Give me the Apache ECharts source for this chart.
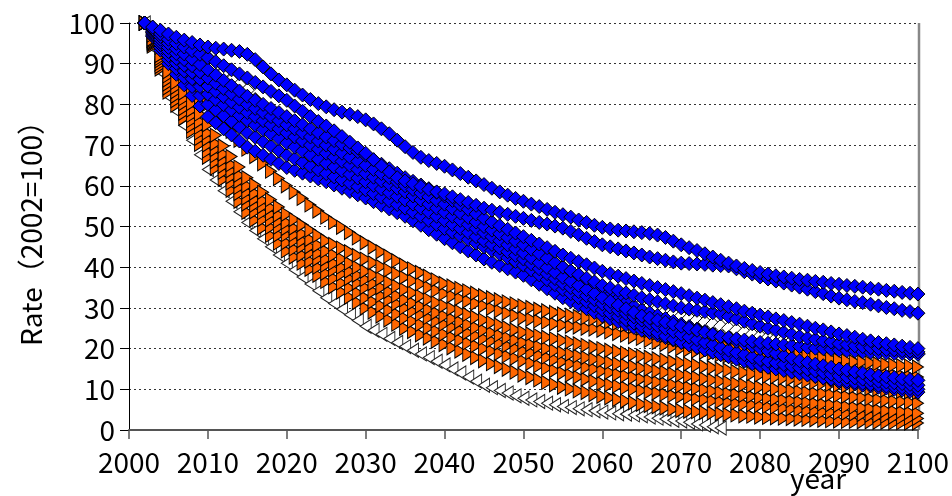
<!DOCTYPE html>
<html>
<head>
<meta charset="utf-8">
<script src="https://cdn.jsdelivr.net/npm/echarts@6/dist/echarts.min.js"></script>
<style>
  html, body { margin: 0; padding: 0; background: #ffffff; }
  #chart { width: 952px; height: 496px; }
</style>
</head>
<body>
<div id="chart"></div>
<script>
// Yearly rates, index 0 = 2002 ... index 98 = 2100 (2002 = 100)
const firstYear = 2002;
const xTicks = [2000, 2010, 2020, 2030, 2040, 2050, 2060, 2070, 2080, 2090, 2100];
const yTicks = [0, 10, 20, 30, 40, 50, 60, 70, 80, 90, 100];

// blue diamond scenarios
const blue1 = [100,99,98.2,97.3,96.5,95.8,95.2,94.6,94.1,93.8,93.6,93.3,93,92.3,91,89.2,87.5,86,84.8,83.5,82.3,81.2,80.2,79.4,78.7,78.1,77.6,77,76.2,75.2,74,72.8,71.2,69.6,68.2,67,66.2,65.5,64.8,63.9,63,62.1,61.2,60.3,59.4,58.5,57.7,56.9,56.2,55.5,54.9,54.2,53.5,52.9,52.3,51.6,51,50.3,49.8,49.4,49.1,48.9,48.7,48.5,48.3,47.9,47.3,46.4,45.5,44.8,44.1,43.3,42.5,41.7,41,40.3,39.7,39.2,38.7,38.3,37.9,37.6,37.3,37,36.8,36.5,36.3,36,35.8,35.5,35.3,35.1,34.8,34.6,34.3,34.1,33.8,33.6,33.4];
const blue2 = [100,98.6,97.3,96,95,94.1,93.2,92.3,91.5,90.5,89.5,88.5,87.5,86.5,85.4,84.3,83.2,82.1,81,79.6,78.3,77,75.8,74.7,73.5,72.1,70.7,69.3,68,66.4,64.9,63.4,62,61.2,60.5,59.8,59.1,58.5,58,57.3,56.6,55.9,55.2,54.5,54,53.5,53,52.5,52,51.5,51,50.6,50.1,49.6,48.8,48,47.1,46.3,45.5,45,44.5,44,43.5,43,42.5,42.1,41.7,41.3,41,40.9,40.8,40.7,40.5,40.4,40.3,39.6,38.9,38.3,37.6,37.1,36.6,36.1,35.6,35.1,34.6,34,33.5,32.9,32.4,32,31.6,31.3,30.9,30.5,30.1,29.8,29.4,29.1,28.7];
const blue3 = [100,98.3,96.7,95,93.7,92.4,91.1,89.8,88.5,87.2,85.9,84.6,83.3,82,81,80,79,78,77,76,75,74,73,72,71.1,70.2,69.3,68.4,67.5,66.4,65.3,64.2,63.1,62,61.1,60.2,59.3,58.4,57.5,56.4,55.3,54.2,53.1,52,51.1,50.2,49.3,48.4,47.5,46.6,45.7,44.8,43.9,43,42.2,41.4,40.6,39.8,39,38.4,37.8,37.2,36.6,36,35.5,35,34.5,34,33.5,33,32.4,31.9,31.3,30.8,30.3,29.8,29.2,28.7,28.2,27.8,27.3,26.9,26.4,26,25.5,25,24.6,24.1,23.6,23.2,22.8,22.3,21.9,21.5,21.2,20.9,20.6,20.3,20];
const blue4 = [100,98,96,94,92.5,91,89.5,88,86.5,85.2,83.9,82.6,81.3,80,79,78,77,76,75,74,73,72,71,70,69,68,67,66,65,64,63,62,61,60,59.1,58.2,57.3,56.4,55.5,54.4,53.3,52.2,51.1,50,49.1,48.2,47.3,46.4,45.5,44.4,43.3,42.2,41.1,40,39.1,38.2,37.3,36.4,35.5,34.9,34.3,33.7,33.1,32.5,32,31.5,31,30.5,30,29.7,29.4,29.1,28.8,28.5,27.9,27.3,26.7,26.1,25.5,25,24.5,24,23.5,23,22.6,22.3,21.9,21.6,21.2,21,20.7,20.5,20.2,20,19.8,19.7,19.5,19.4,19.2];
const blue5 = [100,97.7,95.3,93,91.3,89.6,87.9,86.2,84.5,83.2,81.9,80.6,79.3,78,77,76,75,74,73,72,71,70,69,68,67,66,65,64,63,62.1,61.2,60.3,59.4,58.5,57.5,56.5,55.5,54.5,53.5,52.5,51.5,50.5,49.5,48.5,47.5,46.5,45.5,44.5,43.5,42.3,41.1,39.9,38.7,37.5,36.5,35.5,34.5,33.5,32.5,31.6,30.7,29.8,28.9,28,27.5,27,26.5,26,25.5,25,24.5,24,23.5,23,22.7,22.4,22.1,21.8,21.5,21.3,21.1,20.9,20.7,20.5,20.3,20.1,20,19.8,19.6,19.5,19.4,19.2,19.1,19,18.9,18.8,18.8,18.7,18.6];
const blue6 = [100,97.8,95.7,93.5,91.9,90.3,88.7,87.1,85.5,84.2,82.9,81.6,80.3,79,78,77,76,75,74,73,72,71,70,69,68.1,67.2,66.3,65.4,64.5,63.4,62.3,61.2,60.1,59,58.1,57.2,56.3,55.4,54.5,53.4,52.3,51.2,50.1,49,48.1,47.2,46.3,45.4,44.5,43.4,42.3,41.2,40.1,39,38,37,36,35,34,33.1,32.2,31.3,30.4,29.5,28.8,28.1,27.4,26.7,26,25.4,24.8,24.2,23.6,23,22.4,21.8,21.2,20.6,20,19.4,18.8,18.2,17.6,17,16.6,16.2,15.8,15.4,15,14.7,14.3,14,13.6,13.3,13.1,12.9,12.6,12.4,12.2];
const blue7 = [100,97.3,94.7,92,90.1,88.2,86.3,84.4,82.5,81.2,79.9,78.6,77.3,76,74.9,73.8,72.7,71.6,70.5,69.5,68.5,67.5,66.5,65.5,64.6,63.7,62.8,61.9,61,60.1,59.2,58.3,57.4,56.5,55.5,54.5,53.5,52.5,51.5,50.5,49.5,48.5,47.5,46.5,45.6,44.7,43.8,42.9,42,40.8,39.6,38.4,37.2,36,35,34,33,32,31,30.2,29.4,28.6,27.8,27,26.3,25.6,24.9,24.2,23.5,22.8,22.2,21.5,20.9,20.2,19.6,19,18.5,17.9,17.3,16.9,16.5,16.1,15.7,15.3,14.9,14.5,14.1,13.7,13.3,13,12.8,12.5,12.3,12,11.8,11.6,11.4,11.2,11];
const blue8 = [100,97,94,91,88.8,86.6,84.4,82.2,80,78.6,77.2,75.8,74.4,73,71.9,70.8,69.7,68.6,67.5,66.6,65.7,64.8,63.9,63,62.2,61.4,60.6,59.8,59,58.1,57.2,56.3,55.4,54.5,53.5,52.5,51.5,50.5,49.5,48.6,47.7,46.8,45.9,45,44.1,43.2,42.3,41.4,40.5,39.3,38.1,36.9,35.7,34.5,33.5,32.5,31.5,30.5,29.5,28.7,27.9,27.1,26.3,25.5,24.7,23.9,23.1,22.3,21.5,20.9,20.3,19.7,19.1,18.5,18,17.4,16.9,16.3,15.8,15.4,15,14.6,14.2,13.8,13.5,13.2,12.8,12.5,12.2,12,11.7,11.5,11.2,11,10.8,10.6,10.4,10.2,10];
const blue9 = [100,96.7,93.3,90,87.4,84.8,82.2,79.6,77,75.5,74,72.5,71,69.5,68.5,67.5,66.5,65.5,64.5,63.8,63.1,62.4,61.7,61,60.2,59.4,58.6,57.8,57,56.1,55.2,54.3,53.4,52.5,51.4,50.3,49.2,48.1,47,46,45,44,43,42,41.2,40.4,39.6,38.8,38,36.9,35.8,34.7,33.6,32.5,31.6,30.7,29.8,28.9,28,27.3,26.6,25.9,25.2,24.5,23.9,23.3,22.7,22.1,21.5,20.9,20.3,19.7,19.1,18.5,18,17.5,17,16.5,16,15.6,15.2,14.8,14.4,14,13.6,13.1,12.7,12.2,11.8,11.5,11.3,11,10.8,10.5,10.3,10,9.8,9.5,9.3];

// white diamond scenario (mostly hidden beneath the blue band)
const hollowDiamond = [100,99,98,97,96,95,93.8,92.7,91.5,89.7,87.8,86,84.8,83.5,81.2,79,76.5,75.2,74,73,72,71,70,69,68,67,66,65,64,63,62,61,60,59,58.1,57.2,56.3,55.4,54.5,53.5,52.5,51.5,50.5,49.5,48.6,47.7,46.8,45.9,45,44,43,42,41,40,39,38,37,36,35,34.2,33.4,32.6,31.8,31,30.4,29.8,29.2,28.6,28,27.5,27,26.5,26,25.5,25,24.5,24,23.5,23,22.7,22.4,22.1,21.8,21.5,21.2,20.9,20.6,20.3,20,19.9,19.7,19.6,19.4,19.3,19.2,19.1,19,18.9,18.8];

// orange triangle scenarios
const orange1 = [100,97,94,91,88.5,86,83.8,81.8,80,77.8,75.6,73.4,71.2,69,67.2,65.4,63.6,61.8,60,58.4,56.9,55.3,53.8,52.3,51,49.8,48.5,47.2,46,44.9,43.8,42.7,41.6,40.5,39.6,38.7,37.8,36.9,36,35.4,34.8,34.2,33.6,33,32.5,32,31.5,31,30.5,30.1,29.7,29.3,28.9,28.5,28.2,27.9,27.6,27.3,27,26.6,26.2,25.8,25.4,25,24.4,23.8,23.2,22.6,22,21.8,21.5,21.3,21,20.8,20.6,20.4,20.1,19.9,19.7,19.5,19.2,19,18.7,18.5,18.2,18,17.7,17.5,17.2,17,16.8,16.7,16.5,16.3,16.1,16,15.8,15.7,15.5];
const orange2 = [100,96,92,88,85.4,82.8,80.2,77.6,75,72.4,69.8,67.2,64.6,62,60.2,58.4,56.6,54.8,53,51.7,50.4,49.1,47.8,46.5,45.6,44.7,43.8,42.9,42,41.1,40.2,39.3,38.4,37.5,36.7,35.9,35.1,34.3,33.5,32.9,32.3,31.7,31.1,30.5,29.9,29.3,28.7,28.1,27.5,27.2,26.8,26.5,26.1,25.8,25.5,25.3,25,24.8,24.5,24.1,23.7,23.3,22.9,22.5,22,21.5,21,20.5,20,19.7,19.4,19.1,18.8,18.5,18.2,17.9,17.6,17.3,17,16.8,16.6,16.4,16.2,16,15.8,15.6,15.4,15.2,15,14.8,14.6,14.4,14.2,14,13.8,13.6,13.4,13.2,13];
const orange3 = [100,95.7,91.3,87,84.2,81.4,78.6,75.8,73,70.4,67.8,65.2,62.6,60,58.2,56.4,54.6,52.8,51,49.6,48.2,46.8,45.4,44,43,42,41,40,39,38.1,37.2,36.3,35.4,34.5,33.7,32.9,32.1,31.3,30.5,29.8,29.1,28.4,27.7,27,26.4,25.8,25.2,24.6,24,23.6,23.2,22.8,22.4,22,21.6,21.2,20.8,20.4,20,19.6,19.3,18.9,18.6,18.2,17.9,17.5,17.2,16.8,16.5,16.2,15.9,15.6,15.3,15,14.7,14.4,14.1,13.8,13.5,13.2,13,12.7,12.5,12.2,12,11.7,11.5,11.2,11,10.8,10.6,10.4,10.2,10,9.8,9.7,9.5,9.4,9.2];
const orange4 = [100,95.3,90.7,86,83.1,80.2,77.3,74.4,71.5,68.9,66.3,63.7,61.1,58.5,56.7,54.9,53.1,51.3,49.5,48,46.5,45,43.5,42,41,40,39,38,37,36,35,34,33,32,31.2,30.4,29.6,28.8,28,27.3,26.6,25.9,25.2,24.5,23.9,23.3,22.7,22.1,21.5,21,20.5,20,19.5,19,18.6,18.2,17.8,17.4,17,16.6,16.3,15.9,15.6,15.2,14.9,14.5,14.2,13.8,13.5,13.2,12.9,12.6,12.3,12,11.7,11.4,11.1,10.8,10.5,10.3,10.1,9.9,9.7,9.5,9.3,9.1,8.9,8.7,8.5,8.3,8.1,7.9,7.7,7.5,7.3,7.1,7,6.8,6.6];
const orange5 = [100,95,90,85,82,79,76,73,70,67.4,64.8,62.2,59.6,57,55.2,53.4,51.6,49.8,48,46.5,45,43.5,42,40.5,39.4,38.3,37.2,36.1,35,34,33,32,31,30,29.2,28.4,27.6,26.8,26,25.3,24.6,23.9,23.2,22.5,21.9,21.3,20.7,20.1,19.5,19,18.4,17.9,17.3,16.8,16.3,15.9,15.4,15,14.5,14.1,13.7,13.3,12.9,12.5,12.2,11.8,11.5,11.1,10.8,10.5,10.2,9.9,9.6,9.3,9,8.8,8.5,8.3,8,7.8,7.6,7.4,7.2,7,6.8,6.6,6.4,6.2,6,5.8,5.6,5.4,5.2,5,4.8,4.6,4.5,4.3,4.1];
const orange6 = [100,94.7,89.3,84,80.9,77.8,74.7,71.6,68.5,65.9,63.3,60.7,58.1,55.5,53.6,51.7,49.8,47.9,46,44.5,43,41.5,40,38.5,37.3,36.1,34.9,33.7,32.5,31.5,30.5,29.5,28.5,27.5,26.7,25.9,25.1,24.3,23.5,22.8,22.1,21.4,20.7,20,19.4,18.8,18.2,17.6,17,16.4,15.8,15.2,14.6,14,13.5,13,12.5,12,11.5,11.1,10.8,10.4,10.1,9.7,9.4,9.1,8.8,8.5,8.2,8,7.7,7.5,7.2,7,6.8,6.6,6.4,6.2,6,5.8,5.6,5.4,5.2,5,4.8,4.7,4.5,4.4,4.2,4.1,3.9,3.8,3.6,3.5,3.4,3.2,3.1,2.9,2.8];
const orange7 = [100,94.3,88.7,83,79.8,76.6,73.4,70.2,67,64.3,61.6,58.9,56.2,53.5,51.6,49.7,47.8,45.9,44,42.5,41,39.5,38,36.5,35.2,33.9,32.6,31.3,30,29,28,27,26,25,24.2,23.4,22.6,21.8,21,20.2,19.4,18.6,17.8,17,16.3,15.6,14.9,14.2,13.5,12.9,12.3,11.7,11.1,10.5,10.1,9.6,9.2,8.7,8.3,7.9,7.5,7.1,6.7,6.3,6,5.7,5.4,5.1,4.8,4.6,4.5,4.3,4.2,4,3.8,3.7,3.5,3.4,3.2,3.1,3,2.9,2.8,2.7,2.6,2.5,2.4,2.3,2.2,2.1,2.1,2,2,1.9,1.9,1.8,1.8,1.7,1.7];

// hollow left-pointing triangle scenario, ends in 2075
const hollowTriangle = [100,94,88,82,78.4,74.8,71.2,67.6,64,61.4,58.8,56.2,53.6,51,49,47,45,43,41,39.3,37.6,35.9,34.2,32.5,31.1,29.7,28.3,26.9,25.5,24.5,23.5,22.5,21.5,20.5,19.6,18.7,17.8,16.9,16,15,14,13,12,11,10.4,9.7,9.1,8.4,7.8,7.4,7,6.6,6.2,5.8,5.5,5.2,5,4.7,4.4,4.2,4,3.9,3.7,3.5,3.2,2.9,2.7,2.4,2.2,1.9,1.5,1.2,0.8,0.5];

const FONT = '"Noto Sans CJK JP", "Noto Sans", sans-serif';

function toPoints(values) {
  return values.map((v, i) => [firstYear + i, v]);
}

function scatter(name, values, style) {
  return Object.assign({
    name: name,
    type: 'scatter',
    data: toPoints(values),
    silent: true,
    animation: false
  }, style);
}

const blueStyle = {
  symbol: 'diamond',
  symbolSize: 14,
  itemStyle: { color: '#0000ff', borderColor: '#000000', borderWidth: 1, opacity: 1 }
};
const orangeStyle = {
  symbol: 'triangle',
  symbolSize: [14, 11],
  symbolRotate: -90,
  itemStyle: { color: '#ff6600', borderColor: '#000000', borderWidth: 1, opacity: 1 }
};

const series = [];
series.push(scatter('hollow-tri', hollowTriangle, {
  symbol: 'triangle', symbolSize: [14, 11], symbolRotate: 90,
  itemStyle: { color: '#ffffff', borderColor: '#222222', borderWidth: 1, opacity: 1 }
}));
[orange7, orange6, orange5, orange4, orange3, orange2, orange1].forEach((arr, k) => {
  series.push(scatter('orange' + (7 - k), arr, orangeStyle));
});
series.push(scatter('hollow-dia', hollowDiamond, {
  symbol: 'diamond', symbolSize: 14,
  itemStyle: { color: '#ffffff', borderColor: '#000000', borderWidth: 1, opacity: 1 }
}));
[blue9, blue8, blue7, blue6, blue5, blue4, blue3, blue2, blue1].forEach((arr, k) => {
  series.push(scatter('blue' + (9 - k), arr, blueStyle));
});

const chart = echarts.init(document.getElementById('chart'), null, { renderer: 'canvas' });
chart.setOption({
  backgroundColor: '#ffffff',
  animation: false,
  grid: { left: 129, right: 32, top: 23, bottom: 66 },
  xAxis: {
    type: 'value',
    min: xTicks[0],
    max: xTicks[xTicks.length - 1],
    interval: 10,
    axisLine: { show: true, lineStyle: { color: '#555555', width: 2 } },
    axisTick: { show: true, length: 9, lineStyle: { color: '#555555', width: 1.5 } },
    axisLabel: { color: '#000000', fontFamily: FONT, fontSize: 28, margin: 18, formatter: v => String(v) },
    splitLine: { show: false }
  },
  yAxis: {
    type: 'value',
    min: yTicks[0],
    max: yTicks[yTicks.length - 1],
    interval: 10,
    name: 'Rate（2002=100）',
    nameLocation: 'middle',
    nameGap: 84,
    nameTextStyle: { color: '#000000', fontFamily: FONT, fontSize: 28 },
    axisLine: { show: true, lineStyle: { color: '#000000', width: 1 } },
    axisTick: { show: true, length: 9, lineStyle: { color: '#000000' } },
    axisLabel: { color: '#000000', fontFamily: FONT, fontSize: 28, margin: 14, formatter: v => String(v) },
    splitLine: { show: true, lineStyle: { color: '#333333', width: 1, type: [2, 3] } }
  },
  graphic: [
    {
      type: 'line',
      shape: { x1: 919, y1: 23, x2: 919, y2: 430 },
      style: { stroke: '#888888', lineWidth: 2.5 },
      z: 0
    },
    {
      type: 'text',
      left: 790,
      top: 464,
      style: { text: 'year', fill: '#000000', font: '28px ' + FONT }
    }
  ],
  series: series
});
</script>
</body>
</html>
